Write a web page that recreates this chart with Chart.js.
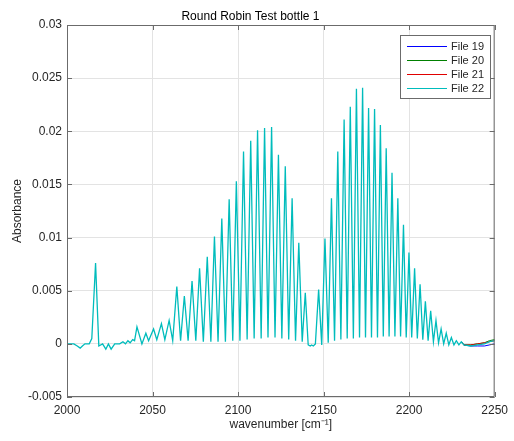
<!DOCTYPE html>
<html>
<head>
<meta charset="utf-8">
<script src="https://cdn.jsdelivr.net/npm/chart.js@4.4.1/dist/chart.umd.min.js"></script>
<style>
  html, body { margin: 0; padding: 0; background: #fff; }
  canvas { display: block; }
</style>
</head>
<body>
<canvas id="chart" width="514" height="441"></canvas>
<script>
// shared spectrum (all four files overlay each other here)
const wavenumber = [
  2000, 2004, 2006, 2007.7, 2009, 2010.5, 2013, 2014.5, 2016.7, 2018.6,
  2020.8, 2022.7, 2024.2, 2025.8, 2027.9, 2030.8, 2032.7, 2034.2, 2035.6, 2036.9,
  2038.4, 2039.5, 2040.9, 2043.8, 2046.1, 2047.7, 2050.6, 2052.5, 2055.2, 2057.2,
  2059.7, 2061.8, 2064.2, 2066.4, 2068.6, 2070.8, 2073.1, 2075.3, 2077.5, 2079.7,
  2082.0, 2084.1, 2086.2, 2088.3, 2090.5, 2092.6, 2094.8, 2096.9, 2099.0, 2101.1,
  2103.2, 2105.3, 2107.4, 2109.4, 2111.4, 2113.5, 2115.5, 2117.5, 2119.6, 2121.6,
  2123.6, 2125.6, 2127.6, 2129.6, 2131.6, 2133.6, 2135.5, 2137.5, 2139.3, 2141.0,
  2142.2, 2143.0, 2144.0, 2145.2, 2147.1, 2148.9, 2150.8, 2152.7, 2154.6, 2156.4,
  2158.3, 2160.1, 2162.0, 2163.8, 2165.6, 2167.4, 2169.2, 2171.0, 2172.8, 2174.5,
  2176.3, 2178.0, 2179.8, 2181.5, 2183.2, 2184.9, 2186.6, 2188.3, 2190.0, 2191.7,
  2193.4, 2195.0, 2196.7, 2198.3, 2199.9, 2201.5, 2203.2, 2204.8, 2206.4, 2208.0,
  2209.5, 2211.1, 2212.6, 2214.2, 2215.7, 2217.2, 2218.7, 2220.2, 2221.7, 2223.2,
  2224.7, 2226.2, 2227.6, 2229.1, 2230.5,
];
const absorbance = [
  0.0000, 0.0000, -0.0002, -0.0004, -0.0002, 0.0000, 0.0000, 0.0005, 0.0076, -0.0002,
  0.0000, -0.0005, 0.0000, -0.0005, 0.0000, 0.0000, 0.0002, 0.0000, 0.0003, 0.0001,
  0.0004, 0.0003, 0.0016, 0.0000, 0.0010, 0.0003, 0.0014, 0.0004, 0.0019, 0.0004,
  0.0022, 0.0003, 0.0054, 0.0003, 0.0045, 0.0003, 0.0059, 0.0003, 0.0071, 0.0002,
  0.0082, 0.0002, 0.0101, 0.0002, 0.0118, 0.0002, 0.0136, 0.0003, 0.0153, 0.0003,
  0.0181, 0.0004, 0.0191, 0.0005, 0.0201, 0.0005, 0.0203, 0.0006, 0.0204, 0.0006,
  0.0178, 0.0005, 0.0167, 0.0004, 0.0137, 0.0003, 0.0095, 0.0002, 0.0048, -0.0001,
  -0.0002, -0.0001, -0.0002, 0.0000, 0.0051, -0.0001, 0.0099, 0.0001, 0.0137, 0.0003,
  0.0181, 0.0004, 0.0211, 0.0005, 0.0223, 0.0005, 0.0240, 0.0006, 0.0241, 0.0006,
  0.0222, 0.0006, 0.0221, 0.0006, 0.0206, 0.0007, 0.0184, 0.0007, 0.0161, 0.0007,
  0.0137, 0.0007, 0.0112, 0.0006, 0.0086, 0.0006, 0.0071, 0.0005, 0.0056, 0.0004,
  0.0040, 0.0003, 0.0031, 0.0002, 0.0022, 0.0001, 0.0014, 0.0000, 0.0010, -0.0001,
  0.0006, -0.0001, 0.0003, -0.0001, 0.0002,
];

// the files only drift apart at the high-wavenumber end
const tailWavenumber = [2232, 2236, 2240, 2244, 2247, 2250];
const tail19 = [-0.0001, -0.0002, -0.0002, -0.0002, -0.0001, 0.0000];
const tail20 = [-0.0001, -0.0001, 0.0000, 0.0001, 0.0003, 0.0004];
const tail21 = [-0.0001, -0.0001, 0.0000, 0.0001, 0.0002, 0.0003];
const tail22 = [-0.0001, -0.0002, -0.0001, 0.0000, 0.0002, 0.0003];

const fileNames = ["File 19", "File 20", "File 21", "File 22"];
const fileColors = ["#0000ff", "#008000", "#e00000", "#00bcbc"];
const fileWidths = [1, 1, 1, 1.3];
const fileTails = [tail19, tail20, tail21, tail22];

const xTicks = [2000, 2050, 2100, 2150, 2200, 2250];
const yTicks = [-0.005, 0, 0.005, 0.01, 0.015, 0.02, 0.025, 0.03];

const FONT = "'Liberation Sans', Arial, Helvetica, sans-serif";
const TEXT = "#262626";

function points(tail) {
  const body = wavenumber.map((x, i) => ({ x, y: absorbance[i] }));
  return body.concat(tailWavenumber.map((x, i) => ({ x, y: tail[i] })));
}

// box + inward ticks on all four sides, like the matlab axes
const boxPlugin = {
  id: "box",
  afterDatasetsDraw(chart) {
    const { ctx, chartArea: a, scales } = chart;
    ctx.save();
    ctx.strokeStyle = "#6b6b6b";
    ctx.lineWidth = 1;
    ctx.beginPath();
    ctx.rect(a.left + 0.5, a.top + 0.5, a.right - a.left - 1, a.bottom - a.top - 1);
    for (const v of xTicks) {
      const px = Math.round(scales.x.getPixelForValue(v)) + 0.5;
      ctx.moveTo(px, a.bottom); ctx.lineTo(px, a.bottom - 5);
      ctx.moveTo(px, a.top); ctx.lineTo(px, a.top + 5);
    }
    for (const v of yTicks) {
      const py = Math.round(scales.y.getPixelForValue(v)) + 0.5;
      ctx.moveTo(a.left, py); ctx.lineTo(a.left + 5, py);
      ctx.moveTo(a.right, py); ctx.lineTo(a.right - 5, py);
    }
    ctx.stroke();
    ctx.restore();
  },
  afterDraw(chart) {
    // legend box in the top right corner
    const { ctx } = chart;
    const x0 = 400, y0 = 35, w = 90, h = 63;
    ctx.save();
    ctx.fillStyle = "#fff";
    ctx.fillRect(x0, y0, w, h);
    ctx.strokeStyle = "#6b6b6b";
    ctx.lineWidth = 1;
    ctx.strokeRect(x0 + 0.5, y0 + 0.5, w, h);
    ctx.font = `11px ${FONT}`;
    ctx.textBaseline = "middle";
    chart.data.datasets.forEach((ds, i) => {
      const y = y0 + 11 + i * 14;
      ctx.strokeStyle = ds.borderColor;
      ctx.lineWidth = 1;
      ctx.beginPath();
      ctx.moveTo(x0 + 7, y + 0.5);
      ctx.lineTo(x0 + 47, y + 0.5);
      ctx.stroke();
      ctx.fillStyle = TEXT;
      ctx.fillText(ds.label, x0 + 51, y + 1);
    });
    ctx.restore();
  },
};

new Chart(document.getElementById("chart"), {
  type: "line",
  data: {
    datasets: fileNames.map((name, i) => ({
      label: name,
      data: points(fileTails[i]),
      borderColor: fileColors[i],
      borderWidth: fileWidths[i],
      pointRadius: 0,
      tension: 0,
      order: 4 - i,
      // File 22 is drawn on top; the others only peek out past ~2228 cm-1
      clip: i === 3 ? 0 : { left: -395, top: 0, right: 0, bottom: 0 },
    })),
  },
  options: {
    responsive: false,
    animation: false,
    devicePixelRatio: 1,
    layout: { padding: { left: 0, right: 13, top: 0, bottom: 0 } },
    plugins: {
      legend: { display: false },
      tooltip: { enabled: false },
      title: {
        display: true,
        text: "Round Robin Test bottle 1",
        color: "#000",
        font: { family: FONT, size: 12, weight: "normal", lineHeight: 1.2 },
        padding: { top: 9, bottom: 1.6 },
      },
    },
    scales: {
      x: {
        type: "linear",
        min: 2000,
        max: 2250,
        afterFit: (s) => { s.height = 44; },
        afterBuildTicks: (s) => { s.ticks = xTicks.map((v) => ({ value: v })); },
        ticks: {
          color: TEXT,
          font: { family: FONT, size: 12 },
          padding: 6,
          maxRotation: 0,
          callback: (v) => String(v),
        },
        grid: { color: "#e3e3e3", drawTicks: false },
        border: { display: false },
        title: {
          display: true,
          text: "wavenumber [cm\u207B\u00B9]",
          color: TEXT,
          font: { family: FONT, size: 12, lineHeight: 1.2 },
          padding: { top: 0, bottom: 9 },
        },
      },
      y: {
        min: -0.005,
        max: 0.03,
        afterFit: (s) => { s.width = 67; },
        afterBuildTicks: (s) => { s.ticks = yTicks.map((v) => ({ value: v })); },
        ticks: {
          color: TEXT,
          font: { family: FONT, size: 12 },
          padding: 5,
          callback: (v) => String(Number(v.toFixed(3))),
        },
        grid: { color: "#e3e3e3", drawTicks: false },
        border: { display: false },
        title: {
          display: true,
          text: "Absorbance",
          color: TEXT,
          font: { family: FONT, size: 12, lineHeight: 1.2 },
          padding: { top: 10, bottom: 0 },
        },
      },
    },
  },
  plugins: [boxPlugin],
});
</script>
</body>
</html>
